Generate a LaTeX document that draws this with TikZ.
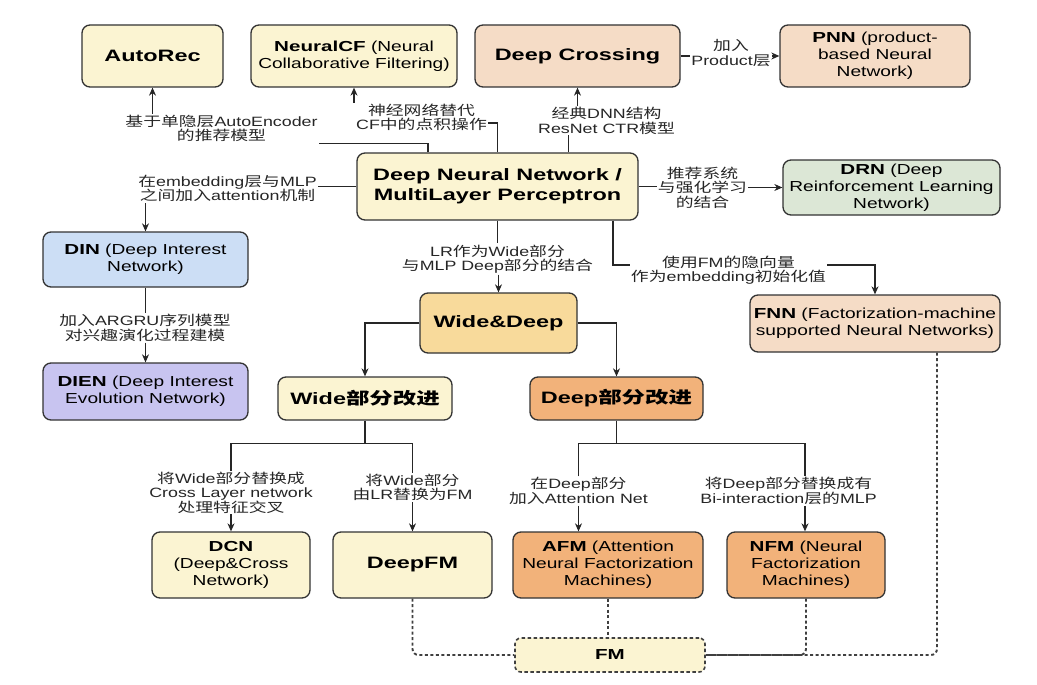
\documentclass[tikz,border=0pt]{standalone}
\usepackage{fontspec}
\setmainfont[FakeStretch=1.32]{Liberation Sans}
\newfontfamily\tff[FakeStretch=1.42]{Liberation Sans}
\newfontfamily\zhr[FakeStretch=1.32]{Noto Sans CJK SC}
\newfontfamily\zht[FakeStretch=1.42]{Noto Sans CJK SC}
\newcommand\zh[1]{{\zhr #1}}
\newcommand\zb[1]{{\zht\bfseries #1}}
\newcommand\tb[1]{{\tff\bfseries #1}}
\usetikzlibrary{arrows.meta}
\definecolor{cyel}{HTML}{FBF4D2}
\definecolor{cpea}{HTML}{F5DCC6}
\definecolor{cgrn}{HTML}{DCE7D6}
\definecolor{cblu}{HTML}{CCDEF5}
\definecolor{cvio}{HTML}{C8C4F0}
\definecolor{cgold}{HTML}{F8DA9B}
\definecolor{corg}{HTML}{F2B27A}
\begin{document}
\begin{tikzpicture}[x=1pt,y=-1pt,
  box/.style={draw=black!80, line width=1.3pt, rounded corners=8pt, align=center,
    inner sep=2pt, font=\fontsize{14.5}{17}\selectfont, text=black},
  ttl/.style={font=\fontsize{16.5}{20}\selectfont},
  lab/.style={align=center, inner sep=1pt, font=\fontsize{13.5}{14.5}\selectfont, text=black!85},
  ln/.style={draw=black!85, line width=1.1pt},
  arr/.style={ln, -{Stealth[length=8pt,width=7pt,inset=2.5pt]}},
  dot/.style={draw=black!75, line width=1.9pt, dash pattern=on 3pt off 2.5pt}
]
\useasboundingbox (0,0) rectangle (1037,685);
\fill[white] (0,0) rectangle (1037,685);
% boxes
\node[box, ttl, fill=cyel, minimum width=141pt, minimum height=62pt] (autorec) at (152.5,56) {\tb{AutoRec}};
\node[box, fill=cyel, minimum width=206pt, minimum height=62pt] (ncf) at (354,56) {\tb{NeuralCF} (Neural\\Collaborative Filtering)};
\node[box, ttl, fill=cpea, minimum width=205pt, minimum height=62pt] (dc) at (577.5,56) {\tb{Deep Crossing}};
\node[box, fill=cpea, minimum width=190pt, minimum height=62pt] (pnn) at (875,56) {\tb{PNN} (product-\\based Neural\\Network)};
\node[box, ttl, fill=cyel, minimum width=281pt, minimum height=67pt] (dnn) at (497.5,186.5) {\tb{Deep Neural Network /}\\\tb{MultiLayer Perceptron}};
\node[box, fill=cgrn, minimum width=217pt, minimum height=55pt] (drn) at (891.5,187.5) {\tb{DRN} (Deep\\Reinforcement Learning\\Network)};
\node[box, fill=cblu, minimum width=205pt, minimum height=55pt] (din) at (145.5,259.5) {\tb{DIN} (Deep Interest\\Network)};
\node[box, fill=cvio, minimum width=205pt, minimum height=57pt] (dien) at (145.5,391.5) {\tb{DIEN} (Deep Interest\\Evolution Network)};
\node[box, ttl, fill=cgold, minimum width=157pt, minimum height=60pt] (wd) at (498.5,323) {\tb{Wide\&Deep}};
\node[box, fill=cpea, minimum width=250pt, minimum height=57pt] (fnn) at (875,323.5) {\tb{FNN} (Factorization-machine\\supported Neural Networks)};
\node[box, ttl, fill=cyel, minimum width=174pt, minimum height=43pt] (wpi) at (365,398.5) {\tb{Wide}\zb{部分改进}};
\node[box, ttl, fill=corg, minimum width=173pt, minimum height=43pt] (dpi) at (616.5,398.5) {\tb{Deep}\zb{部分改进}};
\node[box, fill=cyel, minimum width=158pt, minimum height=66pt] (dcn) at (231,565) {\tb{DCN}\\(Deep\&Cross\\Network)};
\node[box, ttl, fill=cyel, minimum width=159pt, minimum height=66pt] (dfm) at (412.5,565) {\tb{DeepFM}};
\node[box, fill=corg, minimum width=190pt, minimum height=66pt] (afm) at (608,565) {\tb{AFM} (Attention\\Neural Factorization\\Machines)};
\node[box, fill=corg, minimum width=158pt, minimum height=66pt] (nfm) at (806,565) {\tb{NFM} (Neural\\Factorization\\Machines)};
\node[box, fill=cyel, draw=black!75, line width=1.6pt, dash pattern=on 3.5pt off 2.5pt, rounded corners=6pt,
  minimum width=190pt, minimum height=34pt] (fm) at (610,655) {\tb{FM}};
% labels
\node[lab] (l1) at (221.5,128.5) {\zh{基于单隐层}AutoEncoder\\\zh{的推荐模型}};
\node[lab] (l2) at (421.5,117.5) {\zh{神经网络替代}\\CF\zh{中的点积操作}};
\node[lab] (l3) at (606.5,121) {\zh{经典}DNN\zh{结构}\\ResNet CTR\zh{模型}};
\node[lab] (l4) at (731,53) {\zh{加入}\\Product\zh{层}};
\node[lab] (l5) at (227.5,188.5) {\zh{在}embedding\zh{层与}MLP\\\zh{之间加入}attention\zh{机制}};
\node[lab] (l6) at (702.5,187.5) {\zh{推荐系统}\\\zh{与强化学习}\\\zh{的结合}};
\node[lab] (l7) at (497.5,259) {LR\zh{作为}Wide\zh{部分}\\\zh{与}MLP Deep\zh{部分的结合}};
\node[lab] (l8) at (728.5,270) {\zh{使用}FM\zh{的隐向量}\\\zh{作为}embedding\zh{初始化值}};
\node[lab] (l9) at (145,328) {\zh{加入}ARGRU\zh{序列模型}\\\zh{对兴趣演化过程建模}};
\node[lab] (l12a) at (231,492.5) {\zh{将}Wide\zh{部分替换成}\\Cross Layer network\\\zh{处理特征交叉}};
\node[lab] (l12b) at (412.5,487.5) {\zh{将}Wide\zh{部分}\\\zh{由}LR\zh{替换为}FM};
\node[lab] (l13a) at (578.5,491) {\zh{在}Deep\zh{部分}\\\zh{加入}Attention Net};
\node[lab] (l13b) at (788.5,491) {\zh{将}Deep\zh{部分替换成有}\\Bi-interaction\zh{层的}MLP};
% connectors
\draw[ln] ([xshift=-69.5pt]dnn.north) |- (l1.south east);
\draw[arr] (l1.north -| autorec.south) -- (autorec.south);
\draw[ln] (dnn.north) |- ([yshift=-5.5pt]l2.east);
\draw[arr] (l2.north -| ncf.south) -- (ncf.south);
\draw[ln] ([xshift=71pt]dnn.north) -- ++(0,-17);
\draw[arr] (l3.north -| dc.south) -- (dc.south);
\draw[ln] (dc.east) -- (dc.east -| l4.west);
\draw[arr] (l4.east |- pnn.west) -- (pnn.west);
\draw[ln] (dnn.west) -- (dnn.west -| l5.east);
\draw[arr] (l5.south -| din.north) -- (din.north);
\draw[ln] (dnn.east) -- (dnn.east -| l6.west);
\draw[arr] (l6.east |- drn.west) -- (drn.west);
\draw[ln] (dnn.south) -- (dnn.south |- l7.north);
\draw[arr] (l7.south -| wd.north) -- (wd.north);
\draw[ln] ([xshift=115.5pt]dnn.south) |- ([yshift=5pt]l8.west);
\draw[arr] ([yshift=5pt]l8.east) -| (fnn.north);
\draw[ln] (din.south) -- (din.south |- l9.north);
\draw[arr] (l9.south -| dien.north) -- (dien.north);
\draw[arr] (wd.west) -| (wpi.north);
\draw[arr] (wd.east) -| (dpi.north);
\draw[ln] (wpi.south) -- ++(0,23);
\draw[ln] (l12a.north) |- ([yshift=-23pt]wpi.south) -| (l12b.north);
\draw[arr] (l12a.south) -- (l12a.south |- dcn.north);
\draw[arr] (l12b.south) -- (l12b.south |- dfm.north);
\draw[ln] (dpi.south) -- ++(0,23);
\draw[ln] (l13a.north) |- ([yshift=-23pt]dpi.south) -| ([xshift=16.5pt]l13b.north);
\draw[arr] (l13a.south) -- (l13a.south |- afm.north);
\draw[arr] ([xshift=16.5pt]l13b.south) -- ([xshift=16.5pt]l13b.south |- nfm.north);
% dotted FM links
\draw[dot, rounded corners=6pt] (dfm.south) |- (fm.west);
\draw[dot] (afm.south) -- (afm.south |- fm.north);
\draw[dot, rounded corners=6pt] (nfm.south) |- (fm.east);
\draw[dot, rounded corners=6pt] ([xshift=62pt]fnn.south) |- (fm.east);
\end{tikzpicture}
\end{document}
